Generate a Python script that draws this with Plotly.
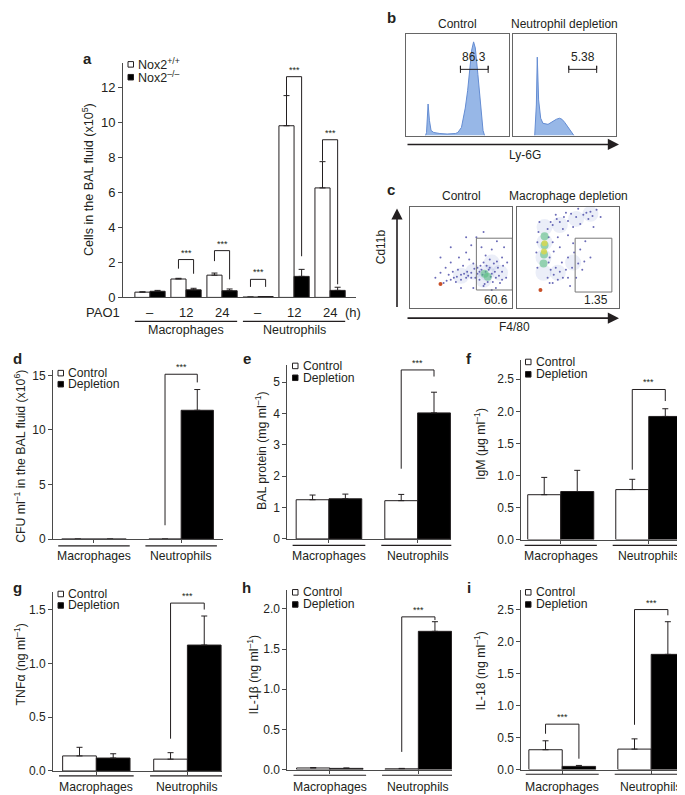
import plotly.graph_objects as go

W, H = 685, 795
FONT = "Liberation Sans, Arial, Helvetica, sans-serif"
INK = "#231f20"
AXC = "#4a4a4a"


def px(x):
    return x / W


def py(y):
    return 1 - y / H


# ---------------- data ----------------
# panel a : cells in the BAL fluid (x10^5)
a_ticks = ["–", "12", "24", "–", "12", "24"]
a_wt = [0.30, 1.05, 1.27, 0.02, 9.80, 6.25]
a_wt_err = [0.02, 0.04, 0.12, 0.00, 1.72, 1.50]
a_ko = [0.35, 0.43, 0.38, 0.05, 1.20, 0.40]
a_ko_err = [0.05, 0.09, 0.10, 0.00, 0.40, 0.18]
a_sig_cat = [1, 2, 3, 4, 5]
a_sig_top = [2.16, 2.67, 1.03, 12.6, 9.0]
a_sig_left = [1.64, 2.07, 0.60, 11.5, 7.8]
a_sig_right = [1.35, 1.03, 0.60, 2.35, 0.75]

cells = ["Macrophages", "Neutrophils"]

d_ctrl, d_ctrl_err = [0.0, 0.0], [0.0, 0.0]
d_depl, d_depl_err = [0.0, 11.8], [0.0, 1.9]
d_sig = ([1], [15.1], [1.27], [14.35])

e_ctrl, e_ctrl_err = [1.25, 1.22], [0.15, 0.20]
e_depl, e_depl_err = [1.28, 4.02], [0.15, 0.66]
e_sig = ([1], [5.39], [2.24], [5.18])

f_ctrl, f_ctrl_err = [0.70, 0.78], [0.27, 0.16]
f_depl, f_depl_err = [0.75, 1.92], [0.33, 0.12]
f_sig = ([1], [2.34], [1.09], [2.16])

g_ctrl, g_ctrl_err = [0.14, 0.11], [0.08, 0.06]
g_depl, g_depl_err = [0.12, 1.17], [0.04, 0.27]
g_sig = ([1], [1.56], [0.30], [1.50])

h_ctrl, h_ctrl_err = [0.02, 0.01], [0.005, 0.005]
h_depl, h_depl_err = [0.015, 1.72], [0.005, 0.12]
h_sig = ([1], [1.90], [0.22], [1.86])

i_ctrl, i_ctrl_err = [0.31, 0.32], [0.14, 0.16]
i_depl, i_depl_err = [0.05, 1.80], [0.015, 0.51]
i_sig = ([0, 1], [0.71, 2.50], [0.56, 0.70], [0.17, 2.41])

# panel b : Ly-6G histograms (fraction of box)
b_ctrl_x = [0.19, 0.20, 0.215, 0.228, 0.244, 0.27, 0.33, 0.40, 0.48, 0.505, 0.54, 0.577,
            0.60, 0.62, 0.64, 0.658, 0.675, 0.70, 0.726, 0.75, 0.765]
b_ctrl_y = [0.0, 0.03, 0.31, 0.15, 0.05, 0.03, 0.02, 0.015, 0.02, 0.03, 0.08, 0.27,
            0.44, 0.66, 0.84, 0.92, 0.86, 0.60, 0.27, 0.05, 0.0]
b_depl_x = [0.21, 0.226, 0.235, 0.248, 0.268, 0.29, 0.339, 0.387, 0.42, 0.45, 0.474,
            0.50, 0.532, 0.565, 0.59]
b_depl_y = [0.0, 0.30, 0.77, 0.35, 0.17, 0.12, 0.11, 0.14, 0.16, 0.17, 0.16,
            0.13, 0.08, 0.03, 0.0]
b_gates = [(0.53, 0.80, 0.65, "86.3"), (0.54, 0.81, 0.65, "5.38")]

# panel c : Cd11b vs F4/80 dot plots (fraction of box)
c_ctrl_dots_x = [0.33, 0.36, 0.40, 0.43, 0.46, 0.50, 0.53, 0.56, 0.60, 0.38, 0.42, 0.47, 0.52,
                 0.45, 0.50, 0.55, 0.35, 0.40, 0.48, 0.55, 0.60, 0.65, 0.58, 0.62, 0.66, 0.70,
                 0.72, 0.74, 0.78, 0.82, 0.86, 0.90, 0.94, 0.88, 0.84, 0.80, 0.72, 0.68, 0.76,
                 0.80, 0.84, 0.70, 0.80, 0.90, 0.95, 0.62, 0.50, 0.30, 0.25, 0.72, 0.85, 0.92,
                 0.40, 0.30, 0.55, 0.66, 0.78, 0.90, 0.74, 0.64, 0.69, 0.73, 0.77, 0.81, 0.85,
                 0.71, 0.75, 0.79, 0.83, 0.68, 0.87, 0.63, 0.91, 0.60, 0.57]
c_ctrl_dots_y = [0.25, 0.27, 0.28, 0.30, 0.31, 0.33, 0.34, 0.36, 0.35, 0.33, 0.36, 0.38, 0.42,
                 0.26, 0.28, 0.30, 0.40, 0.45, 0.50, 0.55, 0.62, 0.70, 0.48, 0.44, 0.40, 0.38,
                 0.45, 0.52, 0.48, 0.44, 0.40, 0.36, 0.30, 0.25, 0.20, 0.18, 0.22, 0.28, 0.26,
                 0.34, 0.30, 0.60, 0.58, 0.50, 0.45, 0.20, 0.20, 0.35, 0.30, 0.75, 0.66, 0.60,
                 0.60, 0.50, 0.70, 0.34, 0.40, 0.28, 0.36, 0.30, 0.42, 0.24, 0.38, 0.26, 0.46,
                 0.33, 0.42, 0.31, 0.36, 0.36, 0.32, 0.39, 0.42, 0.30, 0.32]
c_ctrl_haze_x = [0.50, 0.62, 0.75, 0.80, 0.72, 0.88]
c_ctrl_haze_y = [0.32, 0.36, 0.35, 0.45, 0.28, 0.35]
c_ctrl_core_x = [0.76, 0.73]
c_ctrl_core_y = [0.31, 0.34]

c_depl_dots_x = [0.35, 0.42, 0.50, 0.58, 0.65, 0.72, 0.78, 0.45, 0.55, 0.62, 0.70, 0.40, 0.50,
                 0.35, 0.38, 0.48, 0.60, 0.30, 0.36, 0.42, 0.48, 0.54, 0.60, 0.66, 0.72, 0.35,
                 0.40, 0.45, 0.50, 0.38, 0.44, 0.50, 0.56, 0.62, 0.32, 0.36, 0.42, 0.20, 0.21,
                 0.33, 0.32, 0.31, 0.67, 0.75, 0.55, 0.58, 0.64, 0.82, 0.52, 0.19, 0.20, 0.22,
                 0.31, 0.33, 0.30, 0.39, 0.46, 0.53, 0.68, 0.74]
c_depl_dots_y = [0.82, 0.85, 0.86, 0.90, 0.92, 0.95, 0.97, 0.78, 0.80, 0.83, 0.88, 0.70, 0.72,
                 0.65, 0.92, 0.94, 0.98, 0.30, 0.33, 0.36, 0.38, 0.40, 0.44, 0.46, 0.50, 0.25,
                 0.28, 0.30, 0.30, 0.40, 0.45, 0.50, 0.55, 0.58, 0.50, 0.56, 0.60, 0.40, 0.75,
                 0.85, 0.25, 0.70, 0.66, 0.80, 0.64, 0.30, 0.38, 0.90, 0.22, 0.55, 0.65, 0.85,
                 0.45, 0.38, 0.78, 0.88, 0.90, 0.93, 0.94, 0.91]
c_depl_haze_x = [0.26, 0.26, 0.27, 0.27, 0.42, 0.58, 0.40, 0.55, 0.72]
c_depl_haze_y = [0.35, 0.50, 0.65, 0.80, 0.82, 0.88, 0.35, 0.45, 0.93]
c_depl_core_x = [0.26, 0.265, 0.27, 0.27]
c_depl_core_y = [0.44, 0.53, 0.62, 0.71]
c_depl_hot_x = [0.265, 0.27]
c_depl_hot_y = [0.56, 0.64]
c_gates = [(0.65, 1.0, 0.18, 0.69, "60.6"), (0.57, 0.93, 0.16, 0.69, "1.35")]

# ---------------- figure ----------------
fig = go.Figure()
layout = {}
shapes = []
annotations = []


def text(x, y, s, size=11, xref="paper", yref="paper", **kw):
    d = dict(x=x, y=y, xref=xref, yref=yref, text=s, showarrow=False,
             xanchor="center", yanchor="middle",
             font=dict(family=FONT, size=size, color=INK))
    d.update(kw)
    annotations.append(d)


def bar_panel(n, geom, xr, yr, w, ctrl, ctrl_err, trt, trt_err, sig, dtick, fmt,
              ticks=True, tsize=12):
    x0, x1, ybase, ytop = geom
    xa, ya = f"x{n}", f"y{n}"
    layout[f"xaxis{n}"] = dict(domain=[px(x0), px(x1)], range=xr, anchor=ya,
                               showline=True, linecolor=AXC, linewidth=1,
                               showgrid=False, zeroline=False, showticklabels=False,
                               ticks="outside" if ticks else "", ticklen=3, tickcolor=AXC,
                               tickvals=list(range(len(ctrl))))
    layout[f"yaxis{n}"] = dict(domain=[py(ybase), py(ytop)], range=yr, anchor=xa,
                               showline=True, linecolor=AXC, linewidth=1,
                               showgrid=False, zeroline=False, ticks="outside",
                               ticklen=4, tickcolor=AXC, dtick=dtick, tick0=0,
                               tickformat=fmt,
                               tickfont=dict(family=FONT, size=tsize, color=INK))
    cats = list(range(len(ctrl)))
    for vals, errs, fill, off in ((ctrl, ctrl_err, "white", -w / 2),
                                  (trt, trt_err, "black", w / 2)):
        fig.add_trace(go.Bar(
            x=[c + off for c in cats], y=vals, width=w, xaxis=xa, yaxis=ya,
            marker=dict(color=fill, line=dict(color=INK, width=1)),
            error_y=dict(type="data", array=errs, arrayminus=[0] * len(errs),
                         symmetric=False, color=INK, thickness=1, width=3),
            showlegend=False))
    for c, top, lb, rb in zip(*sig):
        xl, xr_ = c - w / 2, c + w / 2
        fig.add_trace(go.Scatter(x=[xl, xl, xr_, xr_], y=[lb, top, top, rb],
                                 mode="lines", line=dict(color=INK, width=1),
                                 xaxis=xa, yaxis=ya, showlegend=False, hoverinfo="skip"))
        text(c, top, "***", size=9, xref=xa, yref=ya, yanchor="bottom")


def legend(x, y1, y2, labels, size=12.2):
    for y, fill, lab in ((y1, "white", labels[0]), (y2, "black", labels[1])):
        shapes.append(dict(type="rect", xref="paper", yref="paper",
                           x0=px(x), x1=px(x + 5.5), y0=py(y + 2.8), y1=py(y - 2.8),
                           fillcolor=fill, line=dict(color=INK, width=1)))
        text(px(x + 8), py(y), lab, size=size, xanchor="left")


def underline(n, xs, y_line, y_lab, labels, half):
    for c, lab in zip(xs, labels):
        shapes.append(dict(type="line", xref=f"x{n}", yref="paper", x0=c - half,
                           x1=c + half, y0=py(y_line), y1=py(y_line),
                           line=dict(color=INK, width=1.2)))
        text(c, py(y_lab), lab, size=12.2, xref=f"x{n}")


def ytitle(x, y, s, size=12.3):
    text(px(x), py(y), s, size=size, textangle=-90)


# ----- panel a -----
bar_panel("", (115, 348, 291.7, 55), [-0.75, 5.72], [0, 13.36], 0.42,
          a_wt, a_wt_err, a_ko, a_ko_err,
          (a_sig_cat, a_sig_top, a_sig_left, a_sig_right), 2, "d", ticks=False, tsize=13)
for i, t in enumerate(a_ticks):
    text(i, py(306.7), t, size=13, xref="x")
text(px(95), py(306.7), "PAO1", size=13)
text(px(345), py(306.7), "(h)", size=13)
shapes.append(dict(type="line", xref="x", yref="paper", x0=-0.42, x1=2.42,
                   y0=py(316), y1=py(316), line=dict(color=INK, width=1.2)))
shapes.append(dict(type="line", xref="x", yref="paper", x0=2.58, x1=5.42,
                   y0=py(316), y1=py(316), line=dict(color=INK, width=1.2)))
text(1.0, py(324.5), "Macrophages", size=12.5, xref="x")
text(4.0, py(324.5), "Neutrophils", size=12.5, xref="x")
legend(120, 56, 69, ["Nox2<sup>+/+</sup>", "Nox2<sup>–/–</sup>"], size=12.5)
ytitle(80, 173, "Cells in the BAL fluid (x10<sup>5</sup>)", size=12.6)
text(px(79), py(50), "<b>a</b>", size=15)

# ----- panels d-i -----
panels = [
    (6, (45, 215, 536.2, 365), [-0.47, 1.48], [0, 15.5], 0.37, d_ctrl, d_ctrl_err,
     d_depl, d_depl_err, d_sig, 5, "d", 543, 553.3, 12, 453,
     "CFU ml<sup>–1</sup> in the BAL fluid (x10<sup>6</sup>)", "d", (9, 353), (50, 368.3, 379.5)),
    (7, (279.3, 443.3, 536, 360), [-0.47, 1.38], [0, 5.55], 0.37, e_ctrl, e_ctrl_err,
     e_depl, e_depl_err, e_sig, 1, "d", 542.5, 553.3, 253, 447,
     "BAL protein (mg ml<sup>–1</sup>)", "e", (239, 353), (284.5, 361, 373)),
    (8, (513.3, 676, 536.7, 355), [-0.448, 1.40], [0, 2.8], 0.375, f_ctrl, f_ctrl_err,
     f_depl, f_depl_err, f_sig, 0.5, ".1f", 542.5, 553.3, 472, 440,
     "IgM (μg ml<sup>–1</sup>)", "f", (461, 353), (517.5, 357, 369.5)),
    (9, (45, 214, 770.7, 590), [-0.476, 1.38], [0, 1.66], 0.37, g_ctrl, g_ctrl_err,
     g_depl, g_depl_err, g_sig, 0.5, ".1f", 775.7, 786.7, 12, 663,
     "TNFα (ng ml<sup>–1</sup>)", "g", (9, 585), (50, 591.7, 603.3)),
    (10, (279.3, 444, 769.3, 588), [-0.48, 1.38], [0, 2.23], 0.375, h_ctrl, h_ctrl_err,
     h_depl, h_depl_err, h_sig, 0.5, ".1f", 775, 787.3, 245, 673,
     "IL-1β (ng ml<sup>–1</sup>)", "h", (239, 585), (284.5, 590, 602.3)),
    (11, (513.3, 677, 769.3, 588), [-0.46, 1.38], [0, 2.8], 0.375, i_ctrl, i_ctrl_err,
     i_depl, i_depl_err, i_sig, 0.5, ".1f", 774, 786.7, 472, 670,
     "IL-18 (ng ml<sup>–1</sup>)", "i", (461, 585), (517.5, 590, 602.3)),
]
for (n, geom, xr, yr, w, c, ce, t, te, sig, dt, fmt, yl, ylab, tx, tyc, title,
     letter, lpos, leg) in panels:
    bar_panel(n, geom, xr, yr, w, c, ce, t, te, sig, dt, fmt)
    underline(n, [0, 1], yl, ylab, cells, 0.41)
    ytitle(tx, tyc, title)
    text(px(lpos[0]), py(lpos[1]), f"<b>{letter}</b>", size=15)
    legend(leg[0], leg[1], leg[2], ["Control", "Depletion"])


# ----- panels b and c (flow cytometry) -----
def box_axes(n, x0, x1, y0, y1):
    common = dict(range=[0, 1], showline=True, mirror=True, linecolor="#666666",
                  linewidth=1, showgrid=False, zeroline=False, showticklabels=False,
                  ticks="")
    layout[f"xaxis{n}"] = dict(domain=[px(x0), px(x1)], anchor=f"y{n}", **common)
    layout[f"yaxis{n}"] = dict(domain=[py(y1), py(y0)], anchor=f"x{n}", **common)


HIST_FILL = "rgba(140,175,228,0.9)"
HIST_LINE = "rgb(100,140,210)"
for n, (x0, x1), hx, hy, gate, title in (
        (2, (398, 500.7), b_ctrl_x, b_ctrl_y, b_gates[0], "Control"),
        (3, (505, 608.3), b_depl_x, b_depl_y, b_gates[1], "Neutrophil depletion")):
    box_axes(n, x0, x1, 25, 128)
    fig.add_trace(go.Scatter(x=hx, y=hy, mode="lines", fill="tozeroy",
                             fillcolor=HIST_FILL, line=dict(color=HIST_LINE, width=1),
                             xaxis=f"x{n}", yaxis=f"y{n}", showlegend=False))
    g0, g1, gy, lab = gate
    fig.add_trace(go.Scatter(x=[g0, g0, g0, g1, g1, g1],
                             y=[gy - 0.035, gy + 0.035, gy, gy, gy + 0.035, gy - 0.035],
                             mode="lines", line=dict(color=INK, width=1),
                             xaxis=f"x{n}", yaxis=f"y{n}", showlegend=False))
    text((g0 + g1) / 2, gy + 0.03, lab, size=12, xref=f"x{n}", yref=f"y{n}",
         yanchor="bottom")
    text(px((x0 + x1) / 2), py(15), title, size=12)

annotations.append(dict(x=px(611), y=py(137), xref="paper", yref="paper", text="",
                        showarrow=True, ax=-213, ay=0, arrowhead=2, arrowsize=1.4,
                        arrowwidth=1.6, arrowcolor=INK))
text(px(517), py(147.5), "Ly-6G", size=12)
text(px(383), py(9), "<b>b</b>", size=15)

DOT = "rgba(70,70,165,0.8)"
HAZE = "rgba(100,120,200,0.13)"
for n, (x0, x1), dots, haze, cores, hot, red, gate, title in (
        (4, (401.7, 504.3), (c_ctrl_dots_x, c_ctrl_dots_y), (c_ctrl_haze_x, c_ctrl_haze_y),
         (c_ctrl_core_x, c_ctrl_core_y), None, (0.30, 0.24), c_gates[0], "Control"),
        (5, (509, 611), (c_depl_dots_x, c_depl_dots_y), (c_depl_haze_x, c_depl_haze_y),
         (c_depl_core_x, c_depl_core_y), (c_depl_hot_x, c_depl_hot_y), (0.23, 0.18),
         c_gates[1], "Macrophage depletion")):
    box_axes(n, x0, x1, 200, 302.7)
    xa, ya = f"x{n}", f"y{n}"
    fig.add_trace(go.Scatter(x=haze[0], y=haze[1], mode="markers",
                             marker=dict(size=16, color=HAZE, line=dict(width=0)),
                             xaxis=xa, yaxis=ya, showlegend=False))
    fig.add_trace(go.Scatter(x=dots[0], y=dots[1], mode="markers",
                             marker=dict(size=2, color=DOT, line=dict(width=0)),
                             xaxis=xa, yaxis=ya, showlegend=False))
    fig.add_trace(go.Scatter(x=cores[0], y=cores[1], mode="markers",
                             marker=dict(size=8, color="rgba(90,190,130,0.6)",
                                         line=dict(width=0)),
                             xaxis=xa, yaxis=ya, showlegend=False))
    if hot:
        fig.add_trace(go.Scatter(x=hot[0], y=hot[1], mode="markers",
                                 marker=dict(size=6, color="rgba(215,215,80,0.85)",
                                             line=dict(width=0)),
                                 xaxis=xa, yaxis=ya, showlegend=False))
    fig.add_trace(go.Scatter(x=[red[0]], y=[red[1]], mode="markers",
                             marker=dict(size=4, color="rgb(200,80,40)", line=dict(width=0)),
                             xaxis=xa, yaxis=ya, showlegend=False))
    gx0, gx1, gy0, gy1, lab = gate
    shapes.append(dict(type="rect", xref=xa, yref=ya, x0=gx0, x1=gx1, y0=gy0, y1=gy1,
                       line=dict(color="#777777", width=1)))
    text((gx0 + gx1) / 2 + 0.02, 0.085, lab, size=12, xref=xa, yref=ya)
    text(px((x0 + x1) / 2), py(189), title, size=12)

annotations.append(dict(x=px(611), y=py(312.7), xref="paper", yref="paper", text="",
                        showarrow=True, ax=-213, ay=0, arrowhead=2, arrowsize=1.4,
                        arrowwidth=1.6, arrowcolor=INK))
annotations.append(dict(x=px(389), y=py(201.7), xref="paper", yref="paper", text="",
                        showarrow=True, ax=0, ay=100, arrowhead=2, arrowsize=1.4,
                        arrowwidth=1.6, arrowcolor=INK))
text(px(506.7), py(322), "F4/80", size=12)
text(px(373), py(241), "Cd11b", size=12, textangle=-90)
text(px(383), py(183), "<b>c</b>", size=15)

layout.update(dict(width=W, height=H, margin=dict(l=0, r=0, t=0, b=0),
                   paper_bgcolor="white", plot_bgcolor="rgba(0,0,0,0)",
                   barmode="overlay", showlegend=False,
                   font=dict(family=FONT, color=INK),
                   shapes=shapes, annotations=annotations))
fig.update_layout(**layout)
fig.write_html("out.html")
